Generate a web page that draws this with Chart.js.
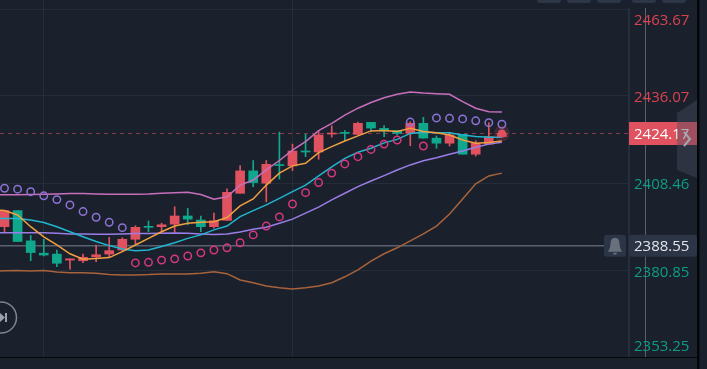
<!DOCTYPE html>
<html>
<head>
<meta charset="utf-8">
<title>K线图</title>
<script src="https://cdn.jsdelivr.net/npm/chart.js@4"></script>
<style>
    html, body { margin: 0; padding: 0; background: #1a212d; overflow: hidden; }
    canvas { display: block; }
</style>
</head>
<body>
<canvas id="klineChart" width="707" height="369"></canvas>
<script>
// candles (the first one sits just left of the visible edge)
const opens = [2398.6,2394.6,2399.7,2390.1,2386.2,2385.9,2384.0,2383.8,2385.0,2385.9,2387.2,2390.6,2394.6,2394.6,2395.4,2398.0,2396.7,2394.6,2396.6,2405.2,2412.3,2408.4,2414.3,2413.9,2418.6,2418.3,2424.0,2424.4,2423.9,2427.7,2425.8,2425.1,2424.2,2427.4,2422.7,2421.1,2423.9,2417.6,2420.8,2423.2];
const highs = [2399.7,2399.7,2399.7,2391.8,2390.6,2387.2,2384.4,2385.9,2388.8,2391.2,2391.1,2394.9,2396.4,2395.7,2400.9,2400.4,2398.0,2398.9,2406.6,2414.0,2415.6,2415.6,2424.6,2420.8,2423.9,2424.8,2426.6,2425.1,2427.8,2427.7,2426.7,2425.1,2427.9,2429.3,2423.4,2424.6,2423.9,2421.9,2427.6,2424.4];
const lows = [2397.9,2392.9,2389.9,2383.8,2385.3,2381.9,2381.1,2383.2,2383.5,2384.9,2387.0,2389.1,2393.0,2392.8,2392.8,2395.2,2393.0,2394.1,2396.6,2405.2,2407.3,2402.5,2409.7,2412.4,2416.8,2416.0,2423.0,2421.9,2423.9,2424.8,2423.2,2423.7,2420.3,2422.7,2419.5,2420.2,2417.6,2417.0,2420.8,2423.0];
const closes = [2394.6,2399.7,2389.9,2386.4,2385.6,2383.0,2384.4,2384.9,2385.7,2387.0,2390.6,2394.4,2394.4,2395.2,2398.0,2397.0,2394.6,2396.5,2405.5,2412.3,2408.6,2414.4,2414.0,2418.6,2418.3,2423.7,2424.3,2424.2,2427.4,2425.9,2425.0,2424.2,2427.4,2422.7,2421.1,2423.7,2417.6,2421.1,2423.2,2424.17];

// indicator lines
const bollUpper = [2404.7,2404.7,2404.7,2404.8,2404.9,2405.0,2405.1,2405.1,2405.0,2404.9,2404.9,2404.9,2405.0,2405.2,2405.4,2405.5,2404.8,2403.3,2404.1,2407.8,2409.4,2412.6,2415.6,2418.9,2421.6,2425.1,2427.4,2430.0,2432.2,2434.0,2435.5,2436.6,2437.3,2437.0,2436.8,2436.6,2434.3,2432.2,2431.1,2431.0];
const bollMid = [2392.7,2392.7,2392.7,2392.7,2392.7,2392.5,2392.3,2392.3,2392.2,2392.2,2392.3,2392.4,2392.4,2392.5,2392.6,2392.5,2392.3,2392.1,2392.3,2392.9,2393.8,2394.4,2395.7,2397.0,2398.9,2400.8,2403.1,2405.2,2407.3,2409.1,2410.8,2412.6,2414.2,2415.5,2416.5,2417.6,2418.6,2419.8,2420.8,2421.4];
const bollLower = [2380.5,2380.6,2380.7,2380.5,2380.7,2380.2,2380.0,2380.0,2379.8,2379.4,2379.3,2379.3,2379.4,2379.6,2379.6,2379.6,2379.8,2380.3,2379.7,2377.7,2376.8,2375.8,2375.2,2374.8,2375.2,2375.8,2376.8,2378.7,2380.9,2383.7,2386.0,2387.9,2390.1,2392.3,2394.8,2398.6,2403.4,2408.2,2410.7,2411.6];
const maFast = [2400.0,2399.7,2398.3,2394.6,2391.4,2388.8,2386.0,2384.3,2384.5,2384.8,2386.7,2388.8,2390.9,2393.0,2394.8,2395.7,2396.0,2396.2,2397.5,2401.2,2403.4,2407.8,2411.6,2413.9,2414.7,2418.1,2420.0,2421.8,2423.4,2425.0,2425.1,2424.8,2425.8,2424.8,2424.4,2423.7,2422.1,2421.1,2421.3,2421.8];
const maSlow = [2397.2,2397.2,2397.2,2396.7,2395.9,2394.6,2393.0,2391.4,2389.9,2388.6,2387.5,2387.0,2387.2,2388.3,2389.5,2390.9,2392.0,2393.6,2394.8,2397.8,2399.7,2401.5,2403.6,2405.7,2407.8,2410.7,2413.6,2416.3,2418.2,2419.5,2421.2,2422.3,2424.2,2424.6,2424.4,2424.4,2423.7,2423.2,2423.0,2423.0];

// SAR dots, null where the dot is on the other side
const sarAbove = [null,2406.8,2406.5,2405.7,2404.4,2403.2,2401.5,2399.4,2397.6,2396.0,2394.3,null,null,null,null,null,null,null,null,null,null,null,null,null,null,null,null,null,null,null,null,null,2427.8,null,2429.1,2429.0,2428.8,2428.2,2427.6,2427.1];
const sarBelow = [null,null,null,null,null,null,null,null,null,null,null,2383.1,2383.3,2384.0,2384.4,2385.3,2386.3,2387.2,2387.9,2389.5,2392.0,2394.8,2397.7,2401.8,2405.4,2408.6,2411.6,2414.5,2416.8,2419.1,2420.8,2422.1,null,2420.2,null,null,null,null,null,null];

// price axis
const tickValues = [2463.67, 2436.07, 2408.46, 2380.85, 2353.25];
const tickLabels = ["2463.67", "2436.07", "2408.46", "2380.85", "2353.25"];
const tickColors = ["#d8434f", "#d8434f", "#0e9c84", "#0e9c84", "#0e9c84"];
const lastPrice = 2424.17;
const alertPrice = 2388.55;
const timeTicks = [4, 23];

const RED = "#e0525f";
const GREEN = "#10a88c";
const FONT = '15px "Open Sans", sans-serif';

const candleColors = closes.map((c, i) => (c >= opens[i] ? RED : GREEN));

function toPoints(values) {
    return values.map((v, i) => ({ x: i, y: v }));
}

function lineSet(values, color, order) {
    return {
        type: "line",
        data: toPoints(values),
        borderColor: color,
        borderWidth: 1.5,
        pointRadius: 0,
        tension: 0,
        order: order
    };
}

function sarSet(values, color) {
    return {
        type: "line",
        data: toPoints(values),
        showLine: false,
        pointStyle: "circle",
        pointRadius: 3.7,
        pointBorderWidth: 1.5,
        pointBorderColor: color,
        pointBackgroundColor: "transparent",
        order: 1
    };
}

// everything around the plot: price lines, axis labels, bell, side tab
const terminalPlugin = {
    id: "terminal",
    beforeDatasetsDraw(chart) {
        const { ctx, scales: { y }, chartArea } = chart;
        ctx.save();
        // last price dashed line
        ctx.strokeStyle = "rgba(224,82,95,0.55)";
        ctx.lineWidth = 1;
        ctx.setLineDash([4, 4]);
        ctx.beginPath();
        ctx.moveTo(chartArea.left, Math.round(y.getPixelForValue(lastPrice)) + 0.5);
        ctx.lineTo(chartArea.right, Math.round(y.getPixelForValue(lastPrice)) + 0.5);
        ctx.stroke();
        ctx.setLineDash([]);
        // alert line
        ctx.strokeStyle = "#596170";
        ctx.lineWidth = 1.5;
        ctx.beginPath();
        ctx.moveTo(chartArea.left, y.getPixelForValue(alertPrice));
        ctx.lineTo(604, y.getPixelForValue(alertPrice));
        ctx.stroke();
        ctx.restore();
    },
    afterDraw(chart) {
        const { ctx, scales: { y } } = chart;
        ctx.save();

        // top toolbar stubs
        ctx.fillStyle = "#2c3646";
        [537, 567, 597, 632, 662].forEach(x => {
            ctx.beginPath();
            ctx.roundRect(x, -6, 24, 9, 3);
            ctx.fill();
        });

        // axis border and the grey vertical line
        ctx.fillStyle = "#252e3c";
        ctx.fillRect(628, 8, 2, 349);
        ctx.fillStyle = "#5a6270";
        ctx.fillRect(645, 8, 1, 349);

        // bottom edge and right gutter
        ctx.fillStyle = "#050608";
        ctx.fillRect(0, 357, 697, 1);
        ctx.fillRect(697, 0, 2.5, 369);

        // price labels, first and last pushed inside the axis
        ctx.font = FONT;
        ctx.textBaseline = "middle";
        ctx.textAlign = "left";
        tickValues.forEach((v, i) => {
            let py = y.getPixelForValue(v) + 2;
            if (i === 0) py += 10;
            if (i === 3) py += 1;
            if (i === tickValues.length - 1) py -= 12;
            ctx.fillStyle = tickColors[i];
            ctx.fillText(tickLabels[i], 634, py);
        });

        // alert price tag
        const ay = y.getPixelForValue(alertPrice);
        ctx.fillStyle = "#2c3546";
        ctx.beginPath();
        ctx.roundRect(629, ay - 11, 68, 22, 3);
        ctx.fill();
        ctx.fillStyle = "#e3e5e8";
        ctx.fillText(alertPrice.toFixed(2), 634, ay + 1);

        // bell button
        ctx.fillStyle = "#2c3546";
        ctx.beginPath();
        ctx.roundRect(604, ay - 11, 22, 22, 3);
        ctx.fill();
        ctx.fillStyle = "#686f7d";
        ctx.beginPath();
        ctx.moveTo(608, ay + 6);
        ctx.quadraticCurveTo(610.5, ay + 3, 610.5, ay - 2);
        ctx.quadraticCurveTo(610.5, ay - 8, 615, ay - 8);
        ctx.quadraticCurveTo(619.5, ay - 8, 619.5, ay - 2);
        ctx.quadraticCurveTo(619.5, ay + 3, 622, ay + 6);
        ctx.closePath();
        ctx.fill();
        ctx.beginPath();
        ctx.arc(615, ay + 7, 2, 0, Math.PI);
        ctx.fill();

        // last price tag
        const ly = y.getPixelForValue(lastPrice);
        ctx.fillStyle = RED;
        ctx.fillRect(629, ly - 11.5, 68, 23);
        ctx.fillStyle = "#ffffff";
        ctx.font = '500 ' + FONT;
        ctx.fillText(lastPrice.toFixed(2), 634, ly + 1);

        // collapse tab on the right
        ctx.fillStyle = "rgba(75,77,92,0.43)";
        ctx.beginPath();
        ctx.moveTo(677, 113);
        ctx.lineTo(697, 100);
        ctx.lineTo(697, 178);
        ctx.lineTo(677, 170);
        ctx.closePath();
        ctx.fill();
        ctx.strokeStyle = "#a3a7b0";
        ctx.lineWidth = 2;
        ctx.beginPath();
        ctx.moveTo(684, 132);
        ctx.lineTo(690, 139);
        ctx.lineTo(684, 146);
        ctx.stroke();

        // replay button cut by the left edge
        ctx.strokeStyle = "#7e8491";
        ctx.lineWidth = 1.5;
        ctx.beginPath();
        ctx.arc(1, 317.5, 15.5, 0, Math.PI * 2);
        ctx.stroke();
        ctx.fillStyle = "#9ca1ac";
        ctx.beginPath();
        ctx.moveTo(0, 313);
        ctx.lineTo(5, 317.5);
        ctx.lineTo(0, 322);
        ctx.closePath();
        ctx.fill();
        ctx.fillRect(5, 313, 2, 9);

        ctx.restore();
    }
};

document.addEventListener("DOMContentLoaded", function () {
    const ctx = document.getElementById("klineChart").getContext("2d");

    new Chart(ctx, {
        type: "bar",
        data: {
            datasets: [
                // wicks
                {
                    data: highs.map((h, i) => ({ x: i, y: [lows[i], h] })),
                    backgroundColor: candleColors,
                    barThickness: 1,
                    grouped: false,
                    order: 9
                },
                // bodies
                {
                    data: closes.map((c, i) => ({ x: i, y: [opens[i], c] })),
                    backgroundColor: candleColors,
                    barThickness: 9,
                    minBarLength: 1,
                    grouped: false,
                    order: 8
                },
                lineSet(bollLower, "#a8633a", 7),
                lineSet(bollUpper, "#c86fbc", 6),
                lineSet(bollMid, "#9a7de6", 5),
                lineSet(maSlow, "#22b5cf", 4),
                lineSet(maFast, "#f0a040", 3),
                sarSet(sarAbove, "#8d73d6"),
                sarSet(sarBelow, "#d6387f"),
                // last price dot with its glow
                {
                    type: "line",
                    data: [{ x: closes.length - 1, y: lastPrice }],
                    pointRadius: 4,
                    pointBackgroundColor: RED,
                    pointBorderWidth: 8,
                    pointBorderColor: "rgba(224,82,95,0.2)",
                    order: 0
                }
            ]
        },
        options: {
            responsive: false,
            animation: false,
            layout: { autoPadding: false, padding: { left: 0, right: 78, top: 0, bottom: 12 } },
            plugins: { legend: { display: false }, tooltip: { enabled: false } },
            scales: {
                x: {
                    type: "linear",
                    min: 0.656,
                    max: 48.71,
                    offset: false,
                    afterBuildTicks: axis => { axis.ticks = timeTicks.map(v => ({ value: v })); },
                    ticks: { display: false },
                    border: { display: false },
                    grid: { offset: false, color: "#242d39", lineWidth: 1, drawTicks: false }
                },
                y: {
                    position: "right",
                    min: 2353.25,
                    max: 2466.53,
                    afterBuildTicks: axis => { axis.ticks = tickValues.map(v => ({ value: v })); },
                    ticks: { display: false },
                    border: { display: false },
                    grid: { color: "#242d39", lineWidth: 1, drawTicks: false }
                }
            }
        },
        plugins: [terminalPlugin]
    });
});
</script>
</body>
</html>
